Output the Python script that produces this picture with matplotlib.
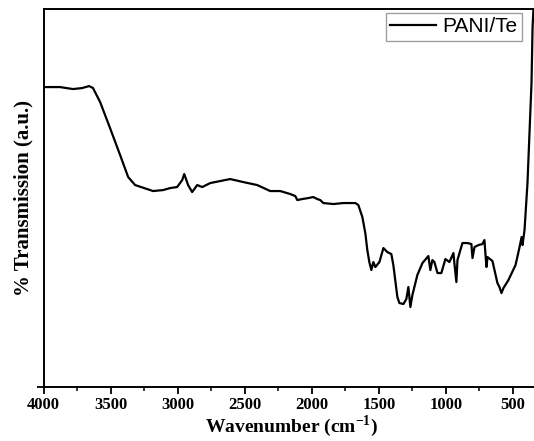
import numpy as np
import matplotlib; matplotlib.use("Agg")
import matplotlib.pyplot as plt
from matplotlib.ticker import MultipleLocator

plt.rcParams["mathtext.fontset"] = "custom"
plt.rcParams["mathtext.rm"] = "Liberation Serif:bold"
plt.rcParams["mathtext.bf"] = "Liberation Serif:bold"

# FTIR spectrum of PANI/Te (wavenumber cm^-1, transmission a.u.)
wn = [4000, 3877, 3780, 3713, 3660, 3631, 3578, 3504, 3429, 3369, 3317, 3183, 3108,
      3056, 3004, 2966, 2951, 2922, 2892, 2854, 2817, 2757, 2683, 2608, 2511, 2407,
      2310, 2235, 2160, 2123, 2108, 2071, 2026, 1989, 1959, 1937, 1914, 1839, 1765,
      1675, 1653, 1623, 1601, 1586, 1571, 1556, 1541, 1526, 1496, 1466, 1437, 1407,
      1392, 1362, 1347, 1317, 1295, 1280, 1265, 1250, 1213, 1175, 1131, 1116, 1101,
      1086, 1063, 1034, 1004, 974, 944, 937, 922, 914, 877, 840, 810, 802, 787, 757,
      728, 713, 698, 690, 653, 638, 616, 601, 586, 571, 534, 481, 451, 436, 429, 414,
      392, 377, 362, 354, 347]
trans = [300, 300, 298, 299, 301, 299, 285, 259, 232, 210, 202, 196, 197,
         199, 200, 207, 213, 202, 195, 202, 200, 204, 206, 208, 205, 202,
         196, 196, 193, 191, 187, 188, 189, 190, 188, 187, 184, 183, 184,
         184, 182, 170, 154, 137, 125, 117, 125, 120, 125, 139, 135, 133,
         122, 90, 84, 83, 88, 100, 80, 92, 112, 124, 131, 117, 127,
         125, 114, 114, 128, 125, 134, 124, 105, 127, 144, 144, 143, 129, 140, 142,
         143, 147, 120, 130, 126, 117, 104, 100, 94, 99, 107, 122, 140, 150, 142, 157,
         204, 254, 304, 360, 379]
xticks = [4000, 3500, 3000, 2500, 2000, 1500, 1000, 500]

fig = plt.figure(figsize=(5.34, 4.41), dpi=100, facecolor="white")
ax = fig.add_axes([0.0815, 0.1224, 0.9294, 0.857])
ax.plot(wn, trans, color="black", lw=1.6, label="PANI/Te")

ax.set_xlim(4000, 300)
ax.set_ylim(0, 378)
ax.set_xticks(xticks)
ax.xaxis.set_minor_locator(MultipleLocator(250))
ax.set_yticks([0])
ax.set_yticklabels([])
ax.tick_params(which="major", direction="out", length=5, width=1.3, pad=2.5)
ax.tick_params(which="minor", direction="out", length=3, width=1.1)
for lab in ax.get_xticklabels():
    lab.set_fontfamily("Liberation Serif"); lab.set_fontweight("bold"); lab.set_fontsize(12)
for s in ax.spines.values():
    s.set_linewidth(1.4)

ax.set_xlabel("Wavenumber (cm$^{-1}$)", fontfamily="Liberation Serif",
              fontweight="bold", fontsize=14, labelpad=0)
ax.set_ylabel("% Transmission (a.u.)", fontfamily="Liberation Serif",
              fontweight="bold", fontsize=15, labelpad=0)

leg = ax.legend(loc="upper left", bbox_to_anchor=(0.6895, 0.99), fancybox=False,
                prop={"family": "Liberation Sans", "size": 15}, handlelength=2.2,
                borderpad=0.22, handletextpad=0.3, borderaxespad=0)
leg.get_frame().set_edgecolor("#888888")
leg.get_frame().set_linewidth(1.0)

fig.savefig("out.png", dpi=100, facecolor="white")
